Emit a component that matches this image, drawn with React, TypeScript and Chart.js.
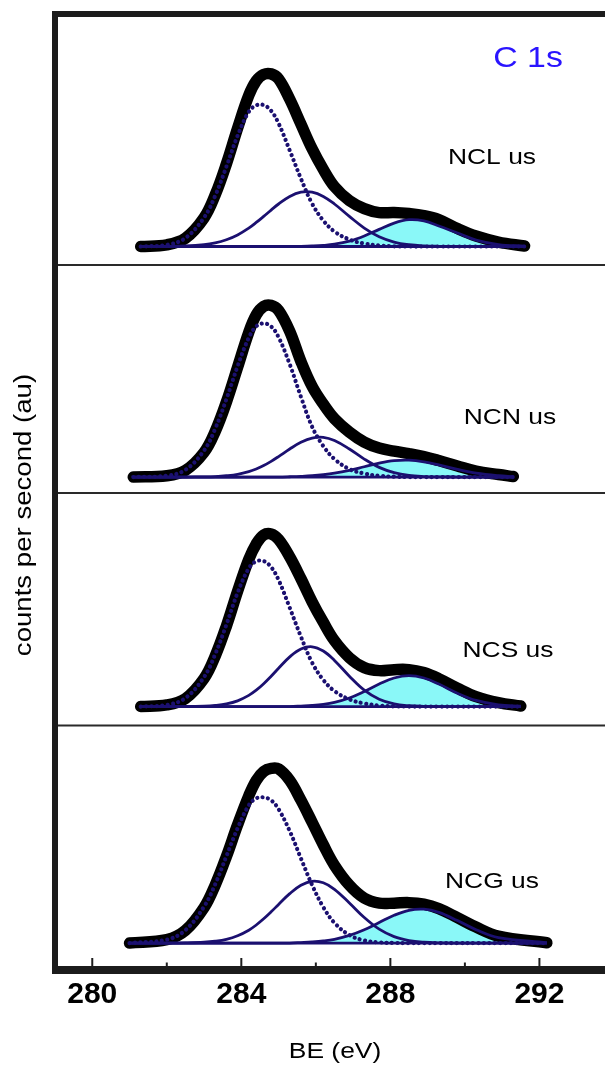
import React, { useEffect, useRef } from "react";
import { Chart, registerables } from "chart.js";

Chart.register(...registerables);

// ---------- data (binding energy in eV, intensities in arbitrary units above each baseline) ----------
const BE_GRID = [282, 282.5, 283, 283.3, 283.6, 283.9, 284.2, 284.4, 284.6, 284.8, 285.0, 285.3, 285.6, 285.9, 286.2, 286.5, 286.9, 287.3, 287.7, 288.1, 288.5, 288.9, 289.3, 289.8, 290.3, 290.9];

const NCL_BE = [281.3, ...BE_GRID, 291.6];
const NCL_ENV = [0, 1.7, 8.3, 28.7, 51.8, 82.8, 118.5, 151.5, 166, 172.5, 173, 168, 147.5, 122.6, 97.9, 77.3, 60, 46, 38, 34, 34, 33, 31, 27, 18, 10.5, 4.5, 0.5];
const NCL_P1 = [0, 1.6, 8.5, 29, 51, 80, 111, 135, 141.5, 141.8, 136.0, 123.4, 96.2, 68, 43, 26, 15, 7, 3, 1, 0.2, 0, 0, 0, 0, 0, 0, 0];
const NCL_P2 = [0, 0.1, 0.5, 1.8, 3.6, 6.8, 11.6, 18.5, 24.1, 30.2, 36.5, 42.6, 50.2, 54.4, 54.4, 50.2, 42.6, 30.2, 18.5, 9.8, 4.5, 1.8, 0.6, 0.2, 0, 0, 0, 0];
const NCL_P3 = [0, 0, 0, 0, 0, 0, 0, 0, 0, 0, 0, 0, 0.1, 0.2, 0.5, 1.1, 2.3, 5.4, 10.6, 17.2, 23.5, 26.9, 25.7, 20.6, 13.5, 6.5, 2, 0.3];

const NCN_BE = [281.1, ...BE_GRID, 291.3];
const NCN_ENV = [0, 1.3, 6.7, 24.7, 45.8, 75.2, 110, 145, 162.5, 171, 172, 167, 146, 115.8, 90.8, 73.1, 58.4, 45, 35, 29, 26, 23.5, 20.5, 16.5, 11, 6, 2.5, 0.5];
const NCN_P1 = [0, 1.3, 7.2, 26.5, 48.5, 78, 111, 139.5, 151, 154.0, 150.9, 140.1, 112.9, 80.3, 50.4, 31, 18, 8, 3.5, 1.2, 0.3, 0, 0, 0, 0, 0, 0, 0];
const NCN_P2 = [0, 0, 0, 0.2, 0.5, 1.3, 2.7, 5.4, 8.1, 11.5, 15.7, 20.5, 28.1, 34.8, 39.1, 39.8, 36.6, 28.1, 18.0, 9.7, 4.4, 1.6, 0.5, 0.1, 0, 0, 0, 0];
const NCN_P3 = [0, 0, 0, 0, 0, 0, 0, 0, 0, 0, 0, 0, 0.3, 0.7, 1.3, 2.3, 3.8, 6.7, 10.3, 13.9, 16.4, 16.9, 15.3, 12.2, 7.6, 3.8, 1.3, 0.5];

const NCS_BE = [281.3, ...BE_GRID, 291.5];
const NCS_ENV = [0, 1.6, 8.0, 28.1, 50.7, 80.7, 115.5, 147.5, 163, 172, 173, 167.5, 150, 128.2, 105, 84.5, 66, 49, 39, 36, 37, 37, 34, 28, 18.5, 10, 4, 0.5];
const NCS_P1 = [0, 1.6, 8.5, 29.5, 52.5, 82, 114, 138.5, 145.5, 145.8, 139.8, 126.9, 98.9, 70, 44, 26.7, 15.5, 7.2, 3.1, 1.0, 0.2, 0, 0, 0, 0, 0, 0, 0];
const NCS_P2 = [0, 0, 0, 0.4, 1.1, 2.6, 5.7, 11.2, 16.4, 22.9, 30.4, 38.4, 49.8, 57.7, 59.9, 55.6, 46.2, 30.4, 16.4, 7.3, 2.6, 0.8, 0.2, 0, 0, 0, 0, 0];
const NCS_P3 = [0, 0, 0, 0, 0, 0, 0, 0, 0, 0, 0, 0, 0, 0.5, 1.1, 2.2, 4.2, 8.6, 15.1, 22.5, 28.6, 31, 28.6, 22.5, 13.3, 6.1, 1.7, 0.3];

const NCG_BE = [281.0, ...BE_GRID, 292.2];
const NCG_ENV = [0, 3.4, 12.6, 35.5, 58.2, 86.7, 118.5, 147.5, 163, 172, 175, 174.5, 163, 143.2, 121.1, 98.5, 77.9, 58, 45, 40, 40, 40.5, 39, 34.5, 25.5, 16, 7, 0.3];
const NCG_P1 = [0, 3.4, 13, 36.5, 59, 87, 115, 138, 145, 146.0, 143.1, 134.2, 112.1, 84.8, 58.1, 36.0, 20.2, 8.0, 2.6, 0.7, 0.1, 0, 0, 0, 0, 0, 0, 0];
const NCG_P2 = [0, 0, 0.2, 0.8, 1.8, 3.7, 7.3, 12.9, 18.1, 24.3, 31.3, 38.7, 49.5, 57.9, 61.9, 60.4, 53.9, 40.2, 25.6, 13.9, 6.4, 2.5, 0.8, 0.2, 0, 0, 0, 0];
const NCG_P3 = [0, 0, 0, 0, 0, 0, 0, 0, 0, 0, 0, 0, 0, 0.5, 1.1, 2.1, 3.8, 7.7, 13.4, 20.6, 27.8, 32.8, 33.9, 30.7, 22.5, 13.4, 5.5, 0.3];

const SAMPLE_NAMES = ["NCL us", "NCN us", "NCS us", "NCG us"];
const STACK_OFFSETS = [725, 494, 264, 27];
const PANEL_DIVIDERS = [706.5, 478, 245];
const X_TICKS = [280, 282, 284, 286, 288, 290, 292];
const X_LABELED = [280, 284, 288, 292];
const TITLE = "C 1s";
const X_TITLE = "BE (eV)";
const Y_TITLE = "counts per second (au)";

// ---------- styles ----------
const NAVY = "#1b1070";
const CYAN = "#8af8f8";
const FRAME = "#1c1c1c";
const FONT = '"Liberation Sans", Arial, sans-serif';
const LABEL_POS: [number, number][] = [[492, 158], [510, 418], [508, 651], [492, 882]];

function drawStretched(ctx: CanvasRenderingContext2D, text: string, x: number, y: number, font: string, color: string, sx: number, rot: number) {
  ctx.save();
  ctx.translate(x, y);
  ctx.rotate(rot);
  ctx.scale(sx, 1);
  ctx.font = font;
  ctx.fillStyle = color;
  ctx.textAlign = "center";
  ctx.textBaseline = "middle";
  ctx.fillText(text, 0, 0);
  ctx.restore();
}

const decorPlugin = {
  id: "decor",
  afterDraw(chart: any) {
    const { ctx, chartArea: ca, scales } = chart;
    const xs = scales.x;
    const ys = scales.y;
    ctx.save();
    ctx.strokeStyle = "#2a2a2a";
    ctx.lineWidth = 2;
    PANEL_DIVIDERS.forEach((v) => {
      const py = ys.getPixelForValue(v);
      ctx.beginPath();
      ctx.moveTo(ca.left, py);
      ctx.lineTo(ca.right, py);
      ctx.stroke();
    });
    ctx.strokeStyle = FRAME;
    ctx.lineWidth = 2;
    X_TICKS.forEach((v) => {
      const px = xs.getPixelForValue(v);
      const len = X_LABELED.includes(v) ? 12 : 7.5;
      ctx.beginPath();
      ctx.moveTo(px, ca.bottom);
      ctx.lineTo(px, ca.bottom - len);
      ctx.stroke();
    });
    ctx.strokeStyle = FRAME;
    ctx.lineCap = "butt";
    ctx.lineWidth = 6;
    ctx.beginPath();
    ctx.moveTo(ca.left, ca.top - 3);
    ctx.lineTo(ca.left, ca.bottom + 4);
    ctx.moveTo(ca.left - 3, ca.top);
    ctx.lineTo(ca.right, ca.top);
    ctx.stroke();
    ctx.lineWidth = 8;
    ctx.beginPath();
    ctx.moveTo(ca.left - 3, ca.bottom);
    ctx.lineTo(ca.right, ca.bottom);
    ctx.stroke();
    ctx.restore();

    drawStretched(ctx, TITLE, 528, 59, `30px ${FONT}`, "#2a14ff", 1.13, 0);
    SAMPLE_NAMES.forEach((name, i) => {
      drawStretched(ctx, name, LABEL_POS[i][0], LABEL_POS[i][1], `22px ${FONT}`, "#000", 1.2, 0);
    });
    drawStretched(ctx, X_TITLE, 335, 1052, `22px ${FONT}`, "#000", 1.2, 0);
    drawStretched(ctx, Y_TITLE, 25, 515, `23px ${FONT}`, "#000", 1.2, -Math.PI / 2);
  },
};

function panelDatasets(be: number[], env: number[], p1: number[], p2: number[], p3: number[], offset: number) {
  const pts = (vals: number[]) => be.map((x, i) => ({ x, y: offset + vals[i] }));
  const common = { pointRadius: 0, tension: 0.38, borderColor: NAVY };
  return [
    { ...common, data: pts(p1), borderWidth: 4.2, borderDash: [0.01, 5.4], borderCapStyle: "round", fill: false, order: 1 },
    { ...common, data: pts(p2), borderWidth: 2.8, fill: false, order: 1 },
    { ...common, data: pts(p3), borderWidth: 2.8, fill: { value: offset }, backgroundColor: CYAN, order: 1 },
    { ...common, data: [{ x: be[0], y: offset }, { x: be[be.length - 1], y: offset }], borderWidth: 2.8, fill: false, order: 1 },
    { ...common, data: pts(env), borderColor: "#000", borderWidth: 11.5, borderCapStyle: "round", borderJoinStyle: "round", fill: false, order: 5 },
  ];
}

export default function App() {
  const ref = useRef<HTMLCanvasElement | null>(null);
  useEffect(() => {
    if (!ref.current) return;
    const datasets = [
      ...panelDatasets(NCL_BE, NCL_ENV, NCL_P1, NCL_P2, NCL_P3, STACK_OFFSETS[0]),
      ...panelDatasets(NCN_BE, NCN_ENV, NCN_P1, NCN_P2, NCN_P3, STACK_OFFSETS[1]),
      ...panelDatasets(NCS_BE, NCS_ENV, NCS_P1, NCS_P2, NCS_P3, STACK_OFFSETS[2]),
      ...panelDatasets(NCG_BE, NCG_ENV, NCG_P1, NCG_P2, NCG_P3, STACK_OFFSETS[3]),
    ];
    const chart = new Chart(ref.current, {
      type: "line",
      data: { datasets: datasets as any },
      options: {
        responsive: false,
        animation: false,
        devicePixelRatio: 1,
        layout: { padding: { left: 55, top: 14, right: 0, bottom: 45 } },
        plugins: {
          legend: { display: false },
          tooltip: { enabled: false },
          filler: { propagate: false, drawTime: "beforeDatasetsDraw" },
        },
        scales: {
          x: {
            type: "linear",
            min: 279,
            max: 293.76,
            afterBuildTicks: (s: any) => {
              s.ticks = X_TICKS.map((v) => ({ value: v }));
            },
            ticks: {
              autoSkip: false,
              maxRotation: 0,
              padding: 7,
              color: "#000",
              font: { family: FONT, size: 30, weight: "bold" },
              callback: (v: any) => (X_LABELED.includes(Number(v)) ? String(v) : ""),
            },
            grid: { display: false, drawTicks: false },
            border: { display: false },
          },
          y: { type: "linear", min: 0, max: 958, display: false },
        },
      } as any,
      plugins: [decorPlugin],
    });
    return () => chart.destroy();
  }, []);
  return (
    <div style={{ position: "absolute", left: 0, top: 0, width: 605, height: 1065, background: "#fff" }}>
      <canvas ref={ref} width={605} height={1065} style={{ width: 605, height: 1065, display: "block" }} />
    </div>
  );
}
